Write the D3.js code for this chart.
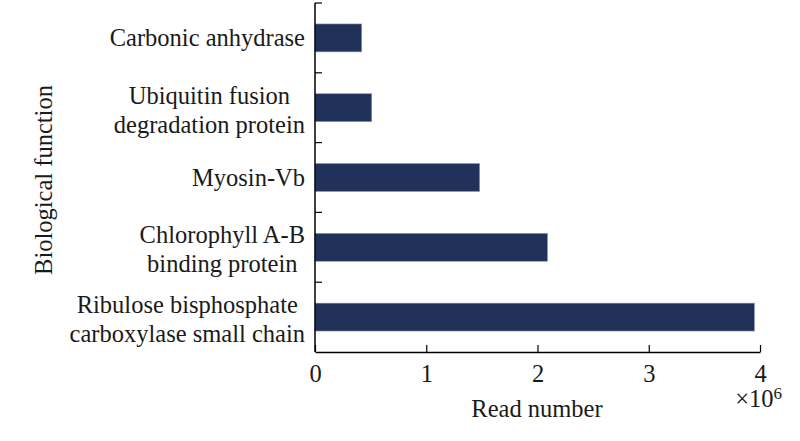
<!DOCTYPE html>
<html>
<head>
<meta charset="utf-8">
<script src="https://cdn.jsdelivr.net/npm/d3@7"></script>
<style>
  body { margin: 0; background: #fff; }
  text { font-family: "Liberation Serif", "DejaVu Serif", serif; fill: #1a1a1a; }
</style>
</head>
<body>
<div id="wrapper"></div>
<script>
// data, top to bottom
const functions = [
  ["Carbonic anhydrase"],
  ["Ubiquitin fusion", "degradation protein"],
  ["Myosin-Vb"],
  ["Chlorophyll A-B", "binding protein"],
  ["Ribulose bisphosphate", "carboxylase small chain"],
]
const readNumbers = [0.42e6, 0.51e6, 1.48e6, 2.09e6, 3.95e6]
const xTicks = [0, 1e6, 2e6, 3e6, 4e6]

const fontSize = 24.5

const dimensions = {
  width: 800,
  height: 441,
  margin: { top: 3, right: 40, bottom: 89, left: 315 },
}
dimensions.boundedWidth = dimensions.width - dimensions.margin.left - dimensions.margin.right
dimensions.boundedHeight = dimensions.height - dimensions.margin.top - dimensions.margin.bottom

const svg = d3.select("#wrapper")
  .append("svg")
    .attr("width", dimensions.width)
    .attr("height", dimensions.height)

const bounds = svg.append("g")
  .attr("transform", `translate(${dimensions.margin.left}, ${dimensions.margin.top})`)

const xScale = d3.scaleLinear()
  .domain([0, 4e6])
  .range([0, 445])

const yScale = d3.scaleBand()
  .domain(d3.range(functions.length))
  .range([0, dimensions.boundedHeight])
  .paddingInner(0.6)
  .paddingOuter(0.3)

// bars
bounds.selectAll("rect")
  .data(readNumbers)
  .join("rect")
    .attr("x", 0)
    .attr("y", (d, i) => yScale(i))
    .attr("width", d => xScale(d))
    .attr("height", yScale.bandwidth())
    .attr("fill", "#203259")
    .attr("stroke", "#8e9bb6")
    .attr("stroke-width", 0.6)

// x axis
const xAxis = bounds.append("g")
  .attr("transform", `translate(0, ${dimensions.boundedHeight})`)
  .call(d3.axisBottom(xScale)
    .tickValues(xTicks)
    .tickSizeInner(-7)
    .tickSizeOuter(0)
    .tickPadding(13)
    .tickFormat(d => d / 1e6))
xAxis.select(".domain").attr("stroke", "#000").attr("stroke-width", 1.5)
xAxis.selectAll(".tick line").attr("stroke", "#000").attr("stroke-width", 1.2)
xAxis.selectAll(".tick text")
  .attr("font-size", fontSize)
  .attr("font-family", null)

// y axis: ticks at band boundaries pointing inward
const boundaries = d3.range(functions.length + 1).map(i => i * dimensions.boundedHeight / functions.length)
bounds.append("line")
  .attr("x1", 0).attr("x2", 0)
  .attr("y1", 0).attr("y2", dimensions.boundedHeight)
  .attr("stroke", "#000").attr("stroke-width", 1.5)
bounds.selectAll(".ytick")
  .data(boundaries.slice(0, -1))
  .join("line")
    .attr("class", "ytick")
    .attr("x1", 0).attr("x2", 7)
    .attr("y1", d => d).attr("y2", d => d)
    .attr("stroke", "#000").attr("stroke-width", 1.2)

// category labels, lines centred, block right aligned
const labels = bounds.selectAll(".label")
  .data(functions)
  .join("text")
    .attr("class", "label")
    .attr("font-size", fontSize)
    .attr("text-anchor", "middle")
labels.each(function(lines, i) {
  const center = yScale(i) + yScale.bandwidth() / 2
  const lineHeight = 29
  const t = d3.select(this)
  lines.forEach((line, j) => {
    t.append("tspan")
      .attr("x", 0)
      .attr("y", center + (j - (lines.length - 1) / 2) * lineHeight + (lines.length > 1 ? 2 : 0))
      .attr("dy", "0.35em")
      .text(line)
  })
  const w = this.getBBox().width
  t.selectAll("tspan").attr("x", -10 - w / 2)
})

// axis titles
bounds.append("text")
  .attr("x", 222)
  .attr("y", dimensions.boundedHeight + 65)
  .attr("text-anchor", "middle")
  .attr("font-size", fontSize)
  .text("Read number")

const mult = bounds.append("text")
  .attr("x", 467)
  .attr("y", dimensions.boundedHeight + 55)
  .attr("text-anchor", "end")
  .attr("font-size", fontSize)
mult.append("tspan").text("×10")
mult.append("tspan").attr("dy", -8).attr("font-size", 17).text("6")

svg.append("text")
  .attr("transform", `translate(52, ${dimensions.margin.top + 177}) rotate(-90)`)
  .attr("text-anchor", "middle")
  .attr("font-size", fontSize)
  .text("Biological function")
</script>
</body>
</html>
